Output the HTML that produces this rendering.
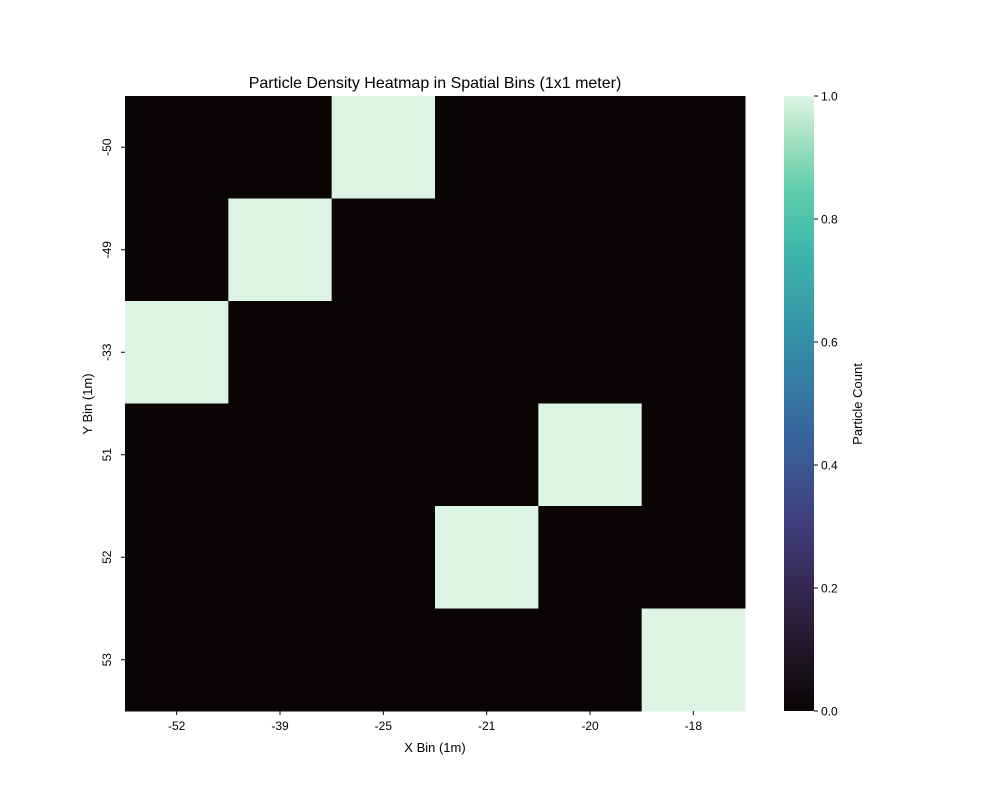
<!DOCTYPE html>
<html><head><meta charset="utf-8"><style>
body{margin:0;background:#fff;}
svg text{font-family:"Liberation Sans","DejaVu Sans",sans-serif;fill:#000;}
</style></head><body>
<svg id="chart" width="1000" height="800" xmlns="http://www.w3.org/2000/svg">
<defs>
<linearGradient id="mako" x1="0" y1="1" x2="0" y2="0">
<stop offset="0" stop-color="#0b0405"/>
<stop offset="0.15" stop-color="#2e1e3c"/>
<stop offset="0.3" stop-color="#413d7b"/>
<stop offset="0.45" stop-color="#37659e"/>
<stop offset="0.6" stop-color="#348fa7"/>
<stop offset="0.75" stop-color="#40b7ad"/>
<stop offset="0.85" stop-color="#60ceac"/>
<stop offset="0.95" stop-color="#b4e6c8"/>
<stop offset="1" stop-color="#def5e5"/>
</linearGradient>
</defs>
<text x="435" y="88" font-size="16" text-anchor="middle">Particle Density Heatmap in Spatial Bins (1x1 meter)</text>
<g id="cells"></g>
<g id="xticks"></g>
<g id="yticks"></g>
<text x="435" y="752" font-size="13" text-anchor="middle">X Bin (1m)</text>
<text transform="translate(92,404) rotate(-90)" font-size="13" text-anchor="middle">Y Bin (1m)</text>
<rect x="784" y="96" width="30" height="615" fill="url(#mako)"/>
<g id="cticks"></g>
<text transform="translate(862,404) rotate(-90)" font-size="13" text-anchor="middle">Particle Count</text>
</svg>
<script>
const xCats = ["-52","-39","-25","-21","-20","-18"];
const yCats = ["-50","-49","-33","51","52","53"];
const values = [
 [0,0,1,0,0,0],
 [0,1,0,0,0,0],
 [1,0,0,0,0,0],
 [0,0,0,0,1,0],
 [0,0,0,1,0,0],
 [0,0,0,0,0,1]
];
const cTicks = [0,0.2,0.4,0.6,0.8,1.0];
const NS="http://www.w3.org/2000/svg";
const L=125,R=745,T=96,B=711,CB0=784,CB1=814;
const cw=(R-L)/xCats.length, ch=(B-T)/yCats.length;
const xPos=i=>L+i*cw, yPos=j=>T+j*ch;
const vmin=0,vmax=1;
const cy=v=>B-(v-vmin)/(vmax-vmin)*(B-T);
function color(v){const t=(v-vmin)/(vmax-vmin);
 const a=[11,4,5],b=[222,245,229];
 return `rgb(${a.map((c,k)=>Math.round(c+(b[k]-c)*t)).join(',')})`;}
function mk(tag,attrs,parent){const e=document.createElementNS(NS,tag);for(const k in attrs)e.setAttribute(k,attrs[k]);parent.appendChild(e);return e;}
const cells=document.getElementById('cells');
values.forEach((row,j)=>row.forEach((v,i)=>{
 const r=mk('rect',{x:xPos(i),y:yPos(j),width:cw+0.5,height:ch+0.5,fill:color(v)},cells);
 
 
}));
const xt=document.getElementById('xticks');
xCats.forEach((c,i)=>{const x=xPos(i)+cw/2;
 mk('line',{x1:x,x2:x,y1:B,y2:B+4,stroke:'#000'},xt);
 const t=mk('text',{x:x,y:B+19,'font-size':12,'text-anchor':'middle'},xt);t.textContent=c;
 
 
});
const yt=document.getElementById('yticks');
yCats.forEach((c,j)=>{const y=yPos(j)+ch/2;
 mk('line',{x1:L-4,x2:L,y1:y,y2:y,stroke:'#000'},yt);
 const t=mk('text',{transform:`translate(${L-14},${y}) rotate(-90)`,'font-size':12,'text-anchor':'middle'},yt);t.textContent=c;
 
 
});
const ct=document.getElementById('cticks');
cTicks.forEach(v=>{const y=cy(v);
 mk('line',{x1:CB1,x2:CB1+4,y1:y,y2:y,stroke:'#000'},ct);
 const t=mk('text',{x:CB1+7,y:y+4.5,'font-size':12},ct);t.textContent=v.toFixed(1);
 
 
});
</script>
</body></html>
